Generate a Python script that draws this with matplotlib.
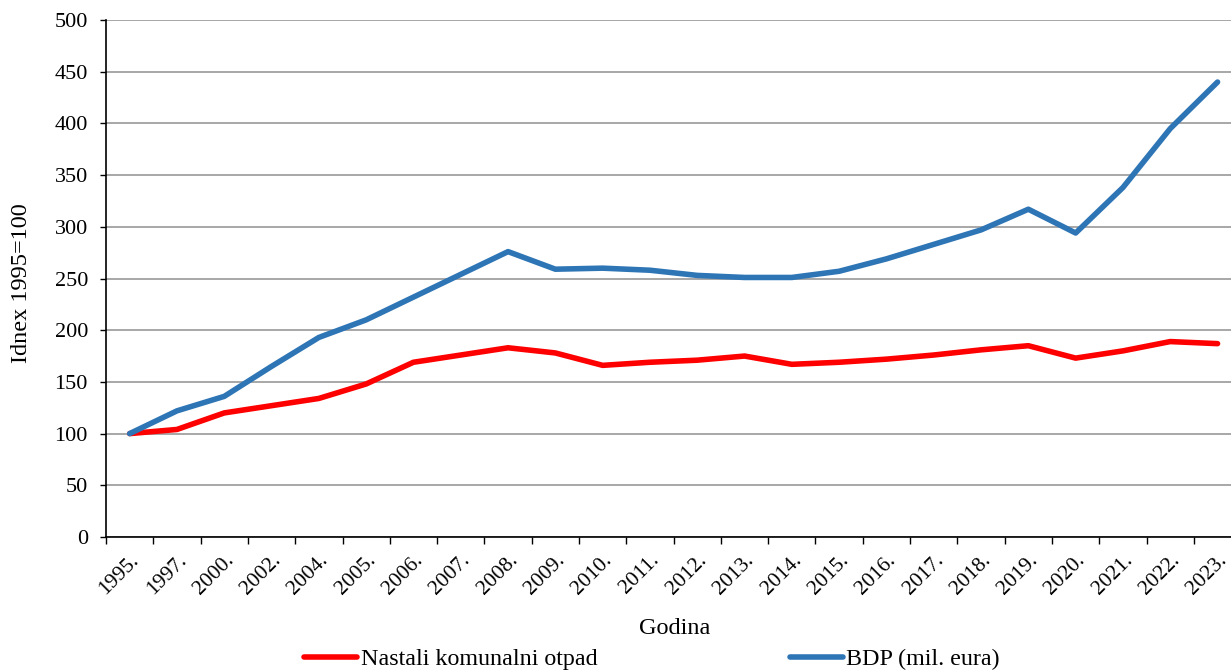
import matplotlib.pyplot as plt
import numpy as np

years = ["1995.", "1997.", "2000.", "2002.", "2004.", "2005.", "2006.", "2007.",
         "2008.", "2009.", "2010.", "2011.", "2012.", "2013.", "2014.", "2015.",
         "2016.", "2017.", "2018.", "2019.", "2020.", "2021.", "2022.", "2023."]
otpad = [100, 104, 120, 127, 134, 148, 169, 176, 183, 178, 166, 169, 171, 175,
         167, 169, 172, 176, 181, 185, 173, 180, 189, 187]
bdp = [100, 122, 136, 165, 193, 210, 232, 254, 276, 259, 260, 258, 253, 251,
       251, 257, 269, 283, 297, 317, 294, 338, 395, 440]

plt.rcParams["font.family"] = ["Liberation Serif", "DejaVu Serif"]

W, H = 1231, 671
fig = plt.figure(figsize=(W / 100, H / 100), dpi=100)
left, bottom = 106 / W, 1 - 537 / H
ax = fig.add_axes([left, bottom, 24 * 47.3 / W, (537 - 20) / H])

x = np.arange(len(years))
ax.plot(x, otpad, color="#FF0000", lw=4, solid_capstyle="round",
        solid_joinstyle="round", label="Nastali komunalni otpad")
ax.plot(x, bdp, color="#2E75B6", lw=4, solid_capstyle="round",
        solid_joinstyle="round", label="BDP (mil. eura)")

ax.set_xlim(-0.5, len(years) - 0.5)
ax.set_ylim(0, 500)
ax.set_yticks(range(0, 501, 50))
ax.yaxis.grid(True, color="#a0a0a0", lw=1.3)
ax.set_axisbelow(True)

ax.set_xticks(x)
ax.set_xticklabels(years, rotation=45, ha="right", rotation_mode="anchor")
ax.set_xticks(np.arange(-0.5, len(years), 1), minor=True)
ax.tick_params(axis="x", which="major", length=0, pad=10, labelsize=15.5)
ax.tick_params(axis="x", which="minor", length=5, width=1, direction="out")
ax.tick_params(axis="y", length=4, width=1, labelsize=16, pad=9)

for s in ("top", "right"):
    ax.spines[s].set_visible(False)
for s in ("left", "bottom"):
    ax.spines[s].set_linewidth(1.2)

fig.text(22 / W, 1 - 283 / H, "Idnex 1995=100", rotation=90, ha="center",
         va="center", fontsize=17.5)
fig.text(675 / W, 1 - 628 / H, "Godina", ha="center", va="center", fontsize=17.5)

fig.legend(loc="center", bbox_to_anchor=(652 / W, 1 - 659 / H), ncol=2,
           frameon=False, fontsize=17.3, handlelength=2.2, handletextpad=0.15,
           columnspacing=8.0)

fig.savefig("out.png", dpi=100)
